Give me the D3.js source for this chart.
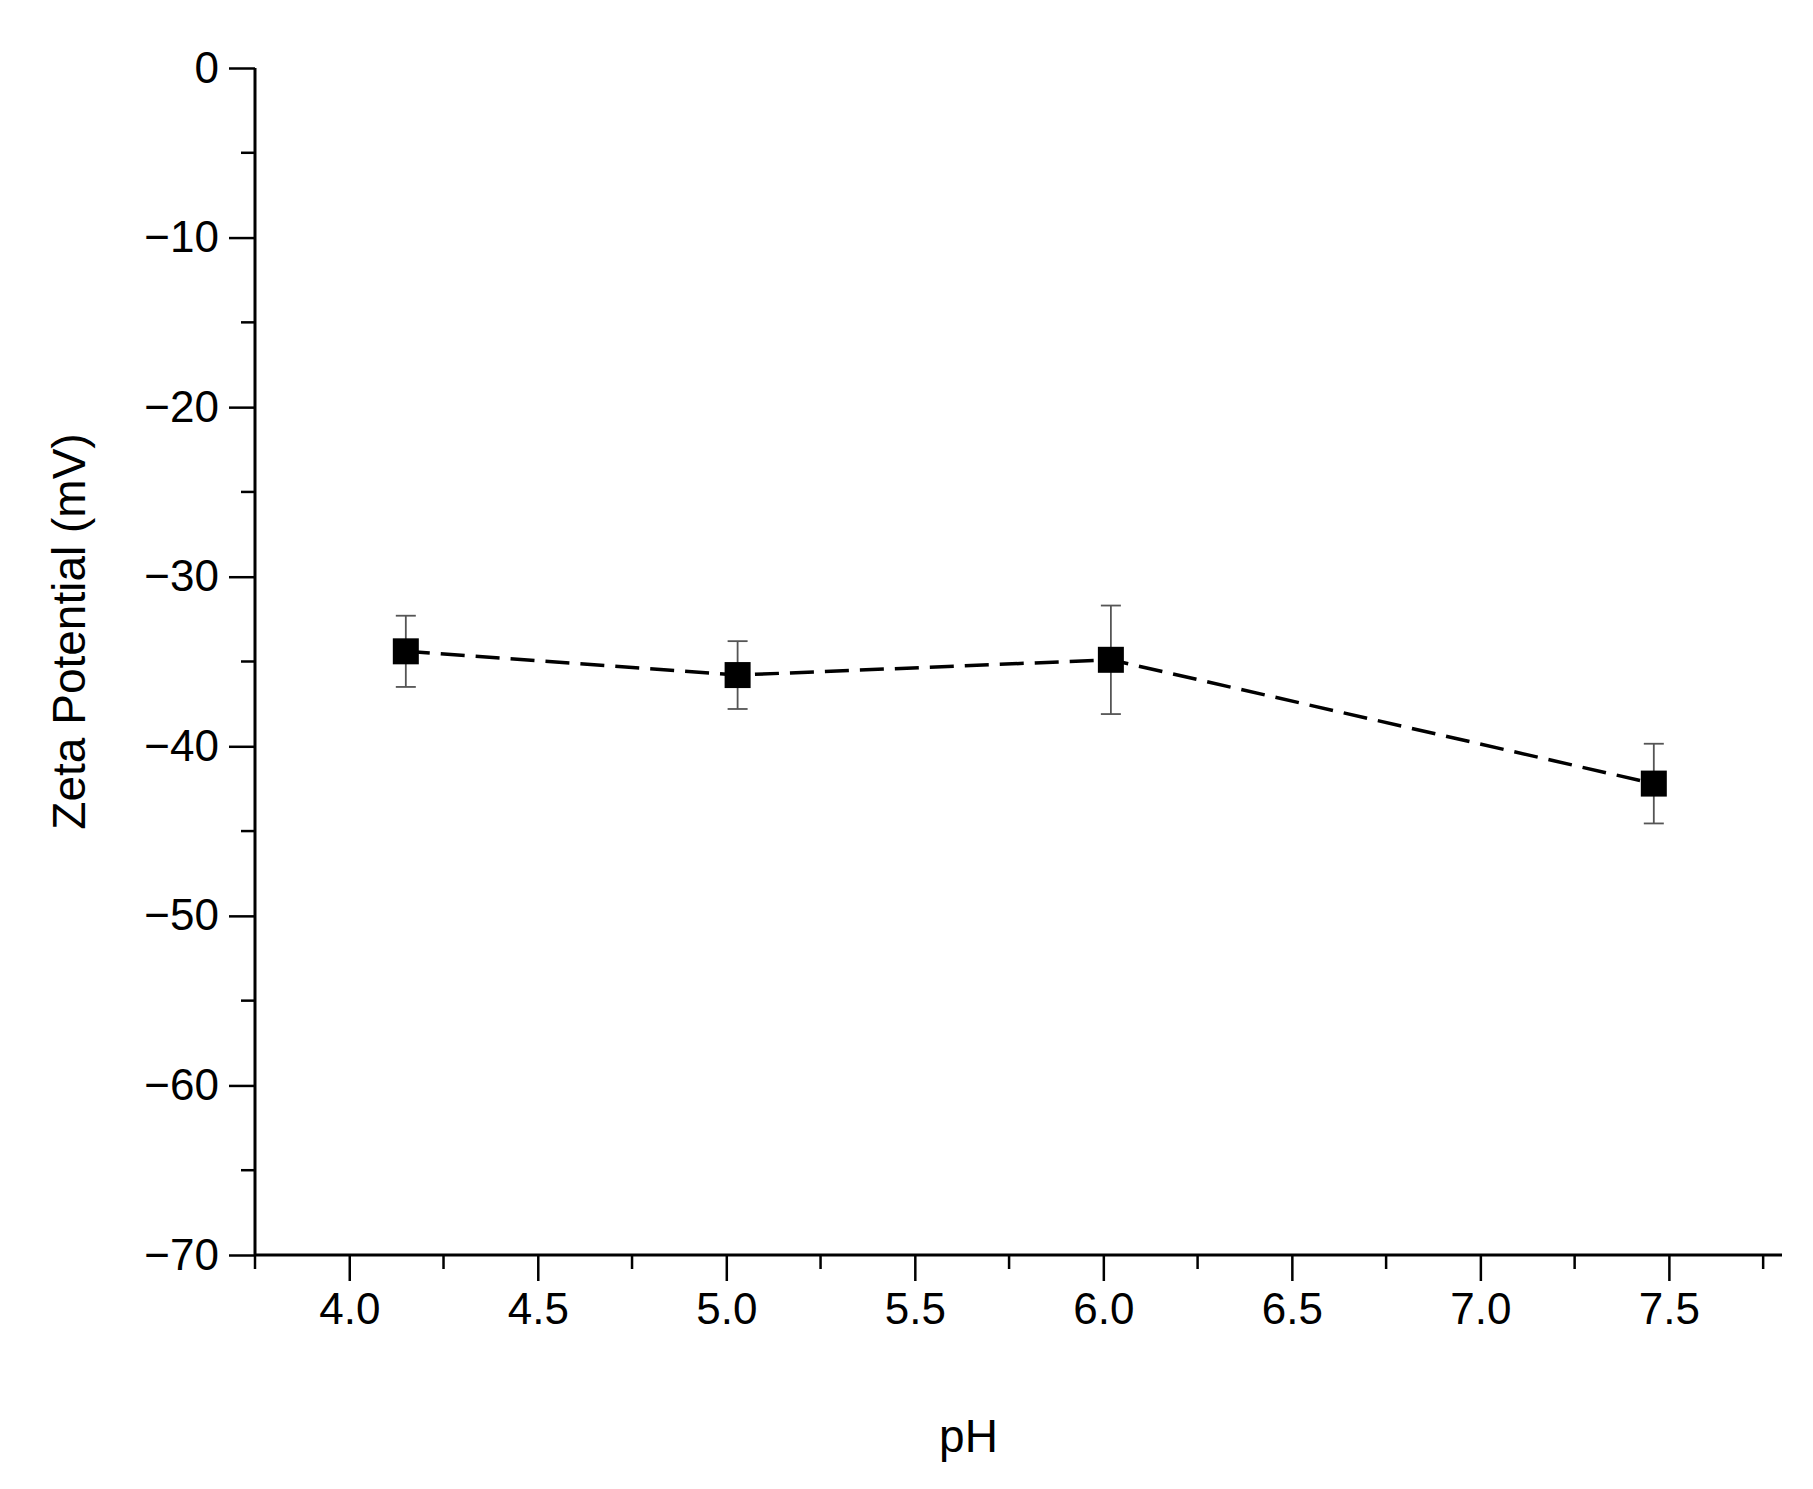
<!DOCTYPE html>
<html><head><meta charset="utf-8">
<script src="https://cdn.jsdelivr.net/npm/d3@7"></script>
<style>body{margin:0;background:#fff}text{font-family:"Liberation Sans",Arial,sans-serif}</style>
</head><body><div id="chart"></div>
<script>
const pH = [4.15, 5.03, 6.02, 7.46];
const zeta = [-34.4, -35.8, -34.9, -42.2];
const zetaErr = [2.1, 2.0, 3.2, 2.35];
const xTicks = [4.0, 4.5, 5.0, 5.5, 6.0, 6.5, 7.0, 7.5];
const yTicks = [0, -10, -20, -30, -40, -50, -60, -70];

const width = 1813, height = 1489;
const plotLeft = 255, plotRight = 1782, plotTop = 68, plotBottom = 1255;

let svg = d3.select("#chart").append("svg").attr("width", width).attr("height", height);

let x = d3.scaleLinear().domain([3.75, 7.8]).range([plotLeft, plotRight]);
let y = d3.scaleLinear().domain([-70, 0]).range([plotBottom, plotTop]);

/* minor ticks */
let xMinor = d3.range(3.75, 7.8, 0.25).filter(v => Math.abs(v * 2 - Math.round(v * 2)) > 0.01);
let yMinor = d3.range(-65, 0, 10);

svg.append("g").selectAll("line").data(xMinor).enter().append("line")
  .attr("x1", d => x(d)).attr("x2", d => x(d))
  .attr("y1", plotBottom).attr("y2", plotBottom + 14)
  .attr("stroke", "#000").attr("stroke-width", 2.5);
svg.append("g").selectAll("line").data(yMinor).enter().append("line")
  .attr("x1", plotLeft).attr("x2", plotLeft - 14)
  .attr("y1", d => y(d)).attr("y2", d => y(d))
  .attr("stroke", "#000").attr("stroke-width", 2.5);

let xAxis = d3.axisBottom(x).tickValues(xTicks).tickFormat(d3.format(".1f")).tickSize(26).tickPadding(12).tickSizeOuter(0);
let yAxis = d3.axisLeft(y).tickValues(yTicks).tickFormat(d3.format("d")).tickSize(26).tickPadding(10).tickSizeOuter(0);

let gx = svg.append("g").attr("transform", `translate(0,${plotBottom})`).call(xAxis);
let gy = svg.append("g").attr("transform", `translate(${plotLeft},0)`).call(yAxis);
[gx, gy].forEach(g => {
  g.select(".domain").attr("stroke-width", 3);
  g.selectAll(".tick line").attr("stroke-width", 2.5);
  g.selectAll("text").attr("font-size", 44).attr("fill", "#000")
    .attr("font-family", "'Liberation Sans', Arial, sans-serif");
});
gx.select(".domain").attr("d", `M${plotLeft},0H${plotRight}`);
gy.select(".domain").attr("d", `M0,${plotTop}V${plotBottom}`);

svg.append("text").attr("x", (plotLeft + plotRight) / 2 - 50).attr("y", 1452)
  .attr("text-anchor", "middle").attr("font-size", 46).text("pH");
svg.append("text").attr("transform", `translate(85,${(plotTop + plotBottom) / 2 - 30}) rotate(-90)`)
  .attr("text-anchor", "middle").attr("font-size", 46).text("Zeta Potential (mV)");

let pts = pH.map((p, i) => ({p: p, z: zeta[i], e: zetaErr[i]}));

svg.append("path").datum(pts)
  .attr("d", d3.line().x(d => x(d.p)).y(d => y(d.z)))
  .attr("fill", "none").attr("stroke", "#000").attr("stroke-width", 3.5)
  .attr("stroke-dasharray", "24,11");

let eb = svg.append("g").attr("stroke", "#555").attr("stroke-width", 1.8);
pts.forEach(d => {
  eb.append("line").attr("x1", x(d.p)).attr("x2", x(d.p)).attr("y1", y(d.z - d.e)).attr("y2", y(d.z + d.e));
  [d.z - d.e, d.z + d.e].forEach(v => eb.append("line")
    .attr("x1", x(d.p) - 10).attr("x2", x(d.p) + 10).attr("y1", y(v)).attr("y2", y(v)));
});

svg.append("g").selectAll("rect").data(pts).enter().append("rect")
  .attr("x", d => x(d.p) - 13).attr("y", d => y(d.z) - 13)
  .attr("width", 26).attr("height", 26).attr("fill", "#000");
</script></body></html>
